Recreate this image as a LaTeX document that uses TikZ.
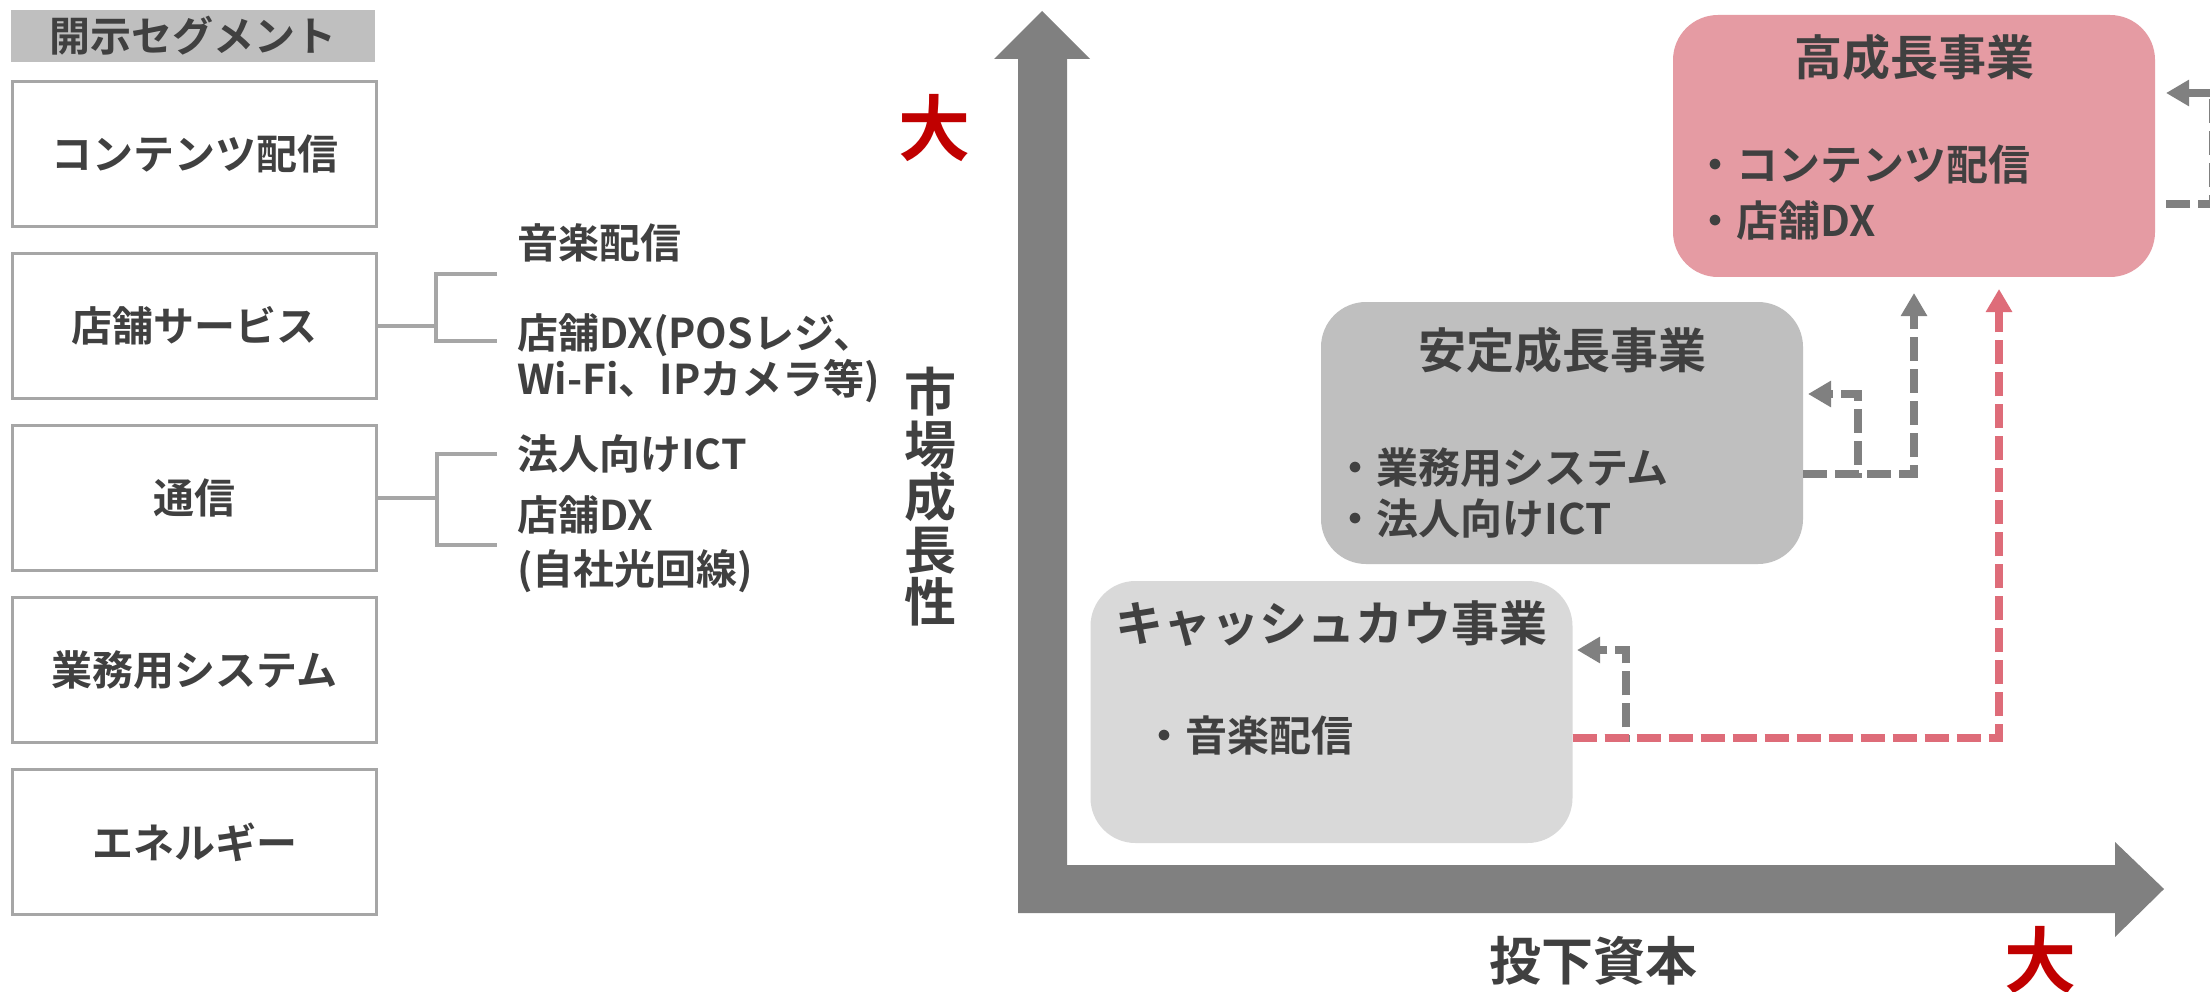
\documentclass[tikz,border=0pt]{standalone}
\usepackage{fontspec}
\IfFontExistsTF{Noto Sans CJK JP Bold}
 {\setmainfont{Noto Sans CJK JP}[BoldFont={Noto Sans CJK JP Bold}]}
 {\setmainfont{Noto Sans CJK JP}[BoldFeatures={FakeBold=2}]}
\usetikzlibrary{arrows.meta}
\definecolor{txt}{HTML}{404040}
\definecolor{boxline}{HTML}{A6A6A6}
\definecolor{hdrfill}{HTML}{BFBFBF}
\definecolor{axisg}{HTML}{808080}
\definecolor{pinkfill}{HTML}{E59BA3}
\definecolor{midg}{HTML}{BFBFBF}
\definecolor{lightg}{HTML}{D9D9D9}
\definecolor{pinkline}{HTML}{DE6C79}
\definecolor{bigred}{HTML}{C00000}
\begin{document}
\begin{tikzpicture}[x=1pt,y=-1pt,
  hdrbox/.style={fill=hdrfill, minimum width=364, minimum height=52, inner sep=0, text=txt, font=\fontsize{41}{46}\selectfont\bfseries},
  seg/.style={draw=boxline, line width=3, fill=white, minimum width=364, minimum height=145, inner sep=0, text=txt, font=\fontsize{41}{46}\selectfont\bfseries},
  lbl/.style={anchor=west, inner sep=0, text=txt, align=left, font=\fontsize{41}{46}\selectfont\bfseries},
  brk/.style={draw=boxline, line width=3.5},
  bizbox/.style={rounded corners=45, minimum width=482, minimum height=262, inner sep=0},
  title/.style={inner sep=0, text=txt, font=\fontsize{48}{54}\selectfont\bfseries},
  bul/.style={anchor=west, inner sep=0, text=txt, font=\fontsize{42}{48}\selectfont\bfseries},
  axlbl/.style={inner sep=0, text=txt, align=center, font=\fontsize{52}{52.5}\selectfont\bfseries},
  big/.style={inner sep=0, text=bigred, font=\fontsize{72}{72}\selectfont\bfseries},
  graydash/.style={draw=axisg, line width=7.5, dash pattern=on 24pt off 8pt, -{Triangle[length=23pt,width=25pt]}},
  pinkdash/.style={draw=pinkline, line width=8, dash pattern=on 24pt off 8pt, -{Triangle[length=23pt,width=25pt]}}
]
\useasboundingbox (0,0) rectangle (2210,992);
\clip (0,0) rectangle (2210,992);
\fill[white] (0,0) rectangle (2210,992);

% ---------- left: segments ----------
\node[hdrbox] (hdr) at (193,36) {開示セグメント};
\node[seg] (s1) at (194.5,154) {コンテンツ配信};
\node[seg] (s2) at (194.5,326) {店舗サービス};
\node[seg] (s3) at (194.5,498) {通信};
\node[seg] (s4) at (194.5,670) {業務用システム};
\node[seg] (s5) at (194.5,842) {エネルギー};

\node[lbl] (m1) at (517,243) {音楽配信};
\node[lbl] (m2) at (517,358) {店舗DX(POSレジ、\\Wi-Fi、IPカメラ等)};
\node[lbl] (t1) at (517,454) {法人向けICT};
\node[lbl] (t2) at (517,544) {店舗DX\\[8pt](自社光回線)};

\coordinate (b2) at (436,326);
\coordinate (b2a) at (497,274);
\coordinate (b2b) at (497,341);
\draw[brk] (s2.east) -- (b2);
\draw[brk] (b2a) -| (b2) |- (b2b);

\coordinate (b3) at (437,498);
\coordinate (b3a) at (497,454);
\coordinate (b3b) at (497,545);
\draw[brk] (s3.east) -- (b3);
\draw[brk] (b3a) -| (b3) |- (b3b);

% ---------- right: axes ----------
\fill[axisg] (1018,913) -- (1018,59) -- (994,59) -- (1042,11) -- (1090,59) -- (1067,59)
  -- (1067,865) -- (2115,865) -- (2115,842) -- (2164,889) -- (2115,937) -- (2115,913) -- cycle;

\node[big] (bigy) at (934,128) {大};
\node[big] (bigx) at (2040,960) {大};
\node[axlbl] (ylbl) at (930,497) {市\\場\\成\\長\\性};
\node[axlbl] (xlbl) at (1593,961) {投下資本};

% ---------- business boxes ----------
\node[bizbox, fill=pinkfill] (high) at (1914,146) {};
\node[bizbox, fill=midg] (stab) at (1562,433) {};
\node[bizbox, fill=lightg] (cash) at (1331.5,712) {};

\node[title] (highT) at (1914,57) {高成長事業};
\node[bul] (highA) at (1694,165) {・コンテンツ配信};
\node[bul] (highB) at (1694,221) {・店舗DX};

\node[title] (stabT) at (1562,350) {安定成長事業};
\node[bul] (stabA) at (1334,468) {・業務用システム};
\node[bul] (stabB) at (1334,519) {・法人向けICT};

\node[title] (cashT) at (1331,624) {キャッシュカウ事業};
\node[bul] (cashA) at (1143,736) {・音楽配信};

% ---------- connectors ----------
% cash cow self loop
\coordinate (c1) at (1626,738);
\coordinate (c2) at (1626,650);
\coordinate (c3) at (1577,650);
\draw[graydash] (cash.east |- c1) -- (c1) -- (c2) -- (c3);

% stable self loop and up to high
\coordinate (d1) at (1858,474);
\coordinate (d2) at (1858,394);
\coordinate (d3) at (1808,394);
\draw[graydash] (stab.east |- d1) -- (d1) -- (d2) -- (d3);
\coordinate (e1) at (1914,474);
\coordinate (e2) at (1914,293);
\draw[graydash] (stab.east |- e1) -- (e1) -- (e2);

% high self loop (goes off the right edge)
\coordinate (h0) at (2166,204);
\coordinate (h1) at (2213,204);
\coordinate (h2) at (2213,93);
\coordinate (h3) at (2166,93);
\draw[graydash] (h0) -- (h1) -- (h2) -- (h3);

% cash cow to high growth (pink)
\coordinate (p1) at (1999,738);
\coordinate (p2) at (1999,289);
\draw[pinkdash] (cash.east |- p1) -- (p1) -- (p2);
\end{tikzpicture}
\end{document}
